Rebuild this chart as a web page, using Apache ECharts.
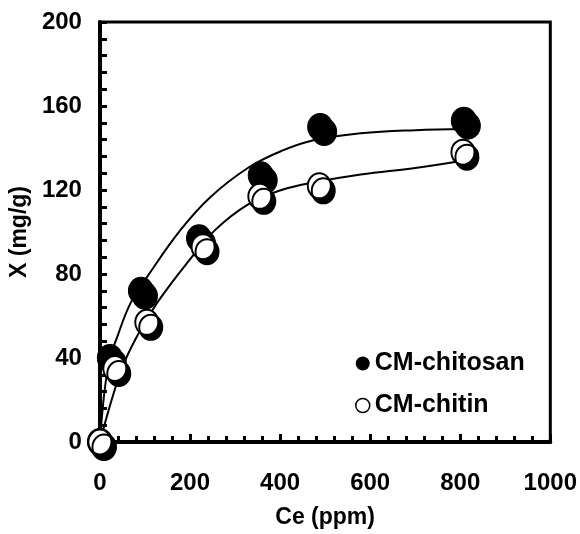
<!DOCTYPE html>
<html>
<head>
<meta charset="utf-8">
<script src="https://cdn.jsdelivr.net/npm/echarts@6/dist/echarts.min.js"></script>
<style>
  html, body { margin: 0; padding: 0; background: #fff; }
  #chart { width: 580px; height: 534px; }
</style>
</head>
<body>
<div id="chart"></div>
<script>
// measured points
const ceChitosan = [0, 22, 91, 220, 357, 489, 808]
const xChitosan = [0, 40, 72, 97, 127, 150, 153]
const ceChitin = [0, 33, 104, 229, 355, 487, 806]
const xChitin = [0, 35, 57, 93, 117, 122, 138]

// fitted curves
const fitCeChitosan = [0, 18, 40, 69, 106, 179, 245, 330, 403, 476, 579, 700, 810]
const fitXChitosan = [0, 36, 51, 66.6, 79, 101, 116.6, 130.7, 138.6, 143.8, 147, 148.5, 149]
const fitCeChitin = [0, 47, 84, 128, 194, 256, 330, 403, 476, 579, 700, 810]
const fitXChitin = [0, 34, 51, 66.6, 85.4, 101, 113.3, 120, 123.7, 127.4, 130.5, 134]

const xTicks = [0, 200, 400, 600, 800, 1000]
const yTicks = [0, 40, 80, 120, 160, 200]

const pairs = (xs, ys) => xs.map((v, i) => [v, ys[i]])

const fontFamily = '"Liberation Sans", Arial, sans-serif'
const shadow = { shadowColor: '#000', shadowBlur: 0, shadowOffsetX: 4, shadowOffsetY: 5 }
const noShadow = { shadowColor: 'rgba(0,0,0,0)', shadowBlur: 0, shadowOffsetX: 0, shadowOffsetY: 0 }

const chart = echarts.init(document.getElementById('chart'))

const axisCommon = {
  axisLine: { show: true, lineStyle: { color: '#000', width: 4 } },
  axisTick: { show: true, inside: true, length: 8, lineStyle: { color: '#000', width: 3 } },
  minorTick: { show: true, splitNumber: 5, length: 6, lineStyle: { color: '#000', width: 3 } },
  splitLine: { show: false },
  minorSplitLine: { show: false },
  axisLabel: { color: '#000', fontSize: 24, fontWeight: 'bold', fontFamily, formatter: v => String(v) },
  nameTextStyle: { color: '#000', fontSize: 23, fontWeight: 'bold', fontFamily }
}

chart.setOption({
  animation: false,
  grid: {
    left: 97, right: 29, top: 22, bottom: 85,
    show: true, borderColor: '#000', borderWidth: 3
  },
  legend: {
    orient: 'vertical',
    left: 350,
    top: 346,
    itemWidth: 14,
    itemHeight: 14,
    itemGap: 17,
    textStyle: { color: '#000', fontSize: 25, fontWeight: 'bold', fontFamily },
    data: [
      {
        name: 'CM-chitosan',
        icon: 'circle',
        itemStyle: { color: '#000', borderColor: '#000', borderWidth: 0, opacity: 1, ...noShadow }
      },
      {
        name: 'CM-chitin',
        icon: 'circle',
        itemStyle: { color: '#fff', borderColor: '#000', borderWidth: 1.5, opacity: 1, ...noShadow }
      }
    ]
  },
  xAxis: {
    ...axisCommon,
    type: 'value',
    min: xTicks[0],
    max: xTicks[xTicks.length - 1],
    interval: 200,
    name: 'Ce (ppm)',
    nameLocation: 'middle',
    nameGap: 64,
    axisLabel: { ...axisCommon.axisLabel, margin: 29 }
  },
  yAxis: {
    ...axisCommon,
    type: 'value',
    min: yTicks[0],
    max: yTicks[yTicks.length - 1],
    interval: 40,
    name: 'X (mg/g)',
    nameLocation: 'middle',
    nameGap: 64,
    axisTick: { ...axisCommon.axisTick, length: 7 },
    minorTick: { ...axisCommon.minorTick, length: 7 },
    axisLabel: { ...axisCommon.axisLabel, margin: 18 }
  },
  series: [
    {
      name: 'fit-chitosan',
      type: 'line',
      smooth: 0.4,
      showSymbol: false,
      silent: true,
      z: 2,
      lineStyle: { color: '#000', width: 2 },
      data: pairs(fitCeChitosan, fitXChitosan)
    },
    {
      name: 'fit-chitin',
      type: 'line',
      smooth: 0.4,
      showSymbol: false,
      silent: true,
      z: 2,
      lineStyle: { color: '#000', width: 2 },
      data: pairs(fitCeChitin, fitXChitin)
    },
    {
      name: 'CM-chitosan',
      type: 'scatter',
      clip: false,
      z: 3,
      symbol: 'circle',
      symbolSize: [25, 27],
      itemStyle: { color: '#000', borderColor: '#000', borderWidth: 1, opacity: 1, ...shadow },
      data: pairs(ceChitosan, xChitosan)
    },
    {
      name: 'CM-chitin',
      type: 'scatter',
      clip: false,
      z: 4,
      symbol: 'circle',
      symbolSize: [23, 25],
      itemStyle: { color: '#fff', borderColor: '#000', borderWidth: 2, opacity: 1, ...shadow },
      data: pairs(ceChitin, xChitin)
    }
  ]
})

window.addEventListener('resize', () => chart.resize())
</script>
</body>
</html>
